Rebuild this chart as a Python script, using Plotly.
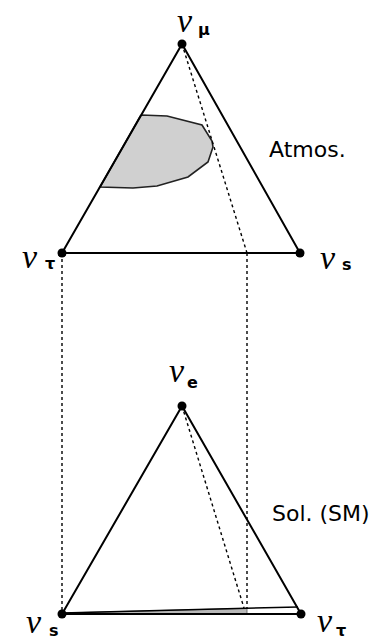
import plotly.graph_objects as go

# Schematic coordinates (screen-like units, y grows downward)
top_tri_x = [182, 62, 300, 182]
top_tri_y = [44, 253, 253, 44]

bot_tri_x = [182, 62, 301, 182]
bot_tri_y = [406, 614, 614, 406]

# Allowed region in the atmospheric triangle
atm_x = [141, 167, 202, 212, 213, 208, 188, 157, 133, 100, 141]
atm_y = [115, 116, 125, 141, 147, 162, 177, 186, 188, 187, 115]

# Allowed sliver in the solar triangle (between the base and the inner edge)
sol_x = [62, 247, 247, 62]
sol_y = [614, 614, 608.3, 613]
sol_edge_x = [62, 298]
sol_edge_y = [613, 607]

# Projection (dotted) lines
proj_lines = [
    ([182, 247], [44, 253]),
    ([62, 62], [253, 613]),
    ([247, 247], [253, 608]),
    ([182, 244], [406, 608]),
]

vert_x = [182, 62, 300, 182, 62, 301]
vert_y = [44, 253, 253, 406, 614, 614]

# vertex labels: flavour subscript, centre of ν, centre of subscript
labels = [
    ("μ", (185, 20), (204, 29)),
    ("τ", (30, 256), (50, 263)),
    ("s", (328, 257), (347, 264)),
    ("e", (177, 370), (192, 382)),
    ("s", (34, 621), (54, 630)),
    ("τ", (325, 620), (341, 630)),
]
region_labels = [("Atmos.", 307, 149), ("Sol. (SM)", 321, 513)]

fig = go.Figure()

line_style = dict(color="black", width=2)
dot_style = dict(color="black", width=1.4, dash="dot")

fig.add_trace(go.Scatter(x=atm_x, y=atm_y, mode="lines", fill="toself",
                         fillcolor="#d0d0d0", line=dict(color="#222222", width=1.6),
                         hoverinfo="skip"))
fig.add_trace(go.Scatter(x=sol_x, y=sol_y, mode="lines", fill="toself",
                         fillcolor="#b8b8b8", line=dict(color="#555555", width=0.8),
                         hoverinfo="skip"))
for xs, ys in proj_lines:
    fig.add_trace(go.Scatter(x=xs, y=ys, mode="lines", line=dot_style, hoverinfo="skip"))
fig.add_trace(go.Scatter(x=top_tri_x, y=top_tri_y, mode="lines", line=line_style, hoverinfo="skip"))
fig.add_trace(go.Scatter(x=bot_tri_x, y=bot_tri_y, mode="lines", line=line_style, hoverinfo="skip"))
fig.add_trace(go.Scatter(x=sol_edge_x, y=sol_edge_y, mode="lines",
                         line=dict(color="black", width=1.5), hoverinfo="skip"))
fig.add_trace(go.Scatter(x=vert_x, y=vert_y, mode="markers",
                         marker=dict(color="black", size=9), hoverinfo="skip"))

for sub, (nx, ny), (sx, sy) in labels:
    fig.add_annotation(x=nx, y=ny, text="<i>ν</i>", showarrow=False,
                       xanchor="center", yanchor="middle",
                       font=dict(family="Liberation Serif", size=34, color="black"))
    fig.add_annotation(x=sx, y=sy, text="<b>%s</b>" % sub, showarrow=False,
                       xanchor="center", yanchor="middle",
                       font=dict(family="DejaVu Sans", size=16, color="black"))
for txt, x, y in region_labels:
    fig.add_annotation(x=x, y=y, text=txt, showarrow=False, xanchor="center", yanchor="middle",
                       font=dict(family="DejaVu Sans", size=22, color="black"))

fig.update_layout(
    width=380, height=642, margin=dict(l=0, r=0, t=0, b=0),
    paper_bgcolor="white", plot_bgcolor="white", showlegend=False,
    xaxis=dict(range=[0, 380], visible=False, fixedrange=True),
    yaxis=dict(range=[642, 0], visible=False, fixedrange=True),
)

fig.write_html("out.html")
